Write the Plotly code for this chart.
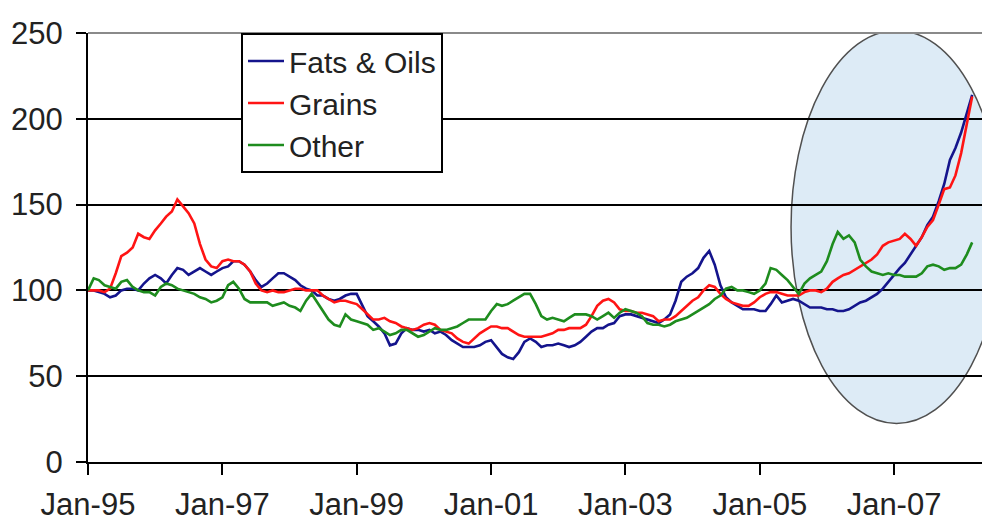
import pandas as pd
import plotly.graph_objects as go

# Monthly index values, Jan-1995 .. Mar-2008 (Jan-1995 = 100)
start_month = "1995-01-01"

fats_oils = [
    100, 100, 99, 98, 96, 97, 100, 101, 101, 100,
    104, 107, 109, 107, 104, 109, 113, 112, 109, 111,
    113, 111, 109, 111, 113, 114, 117, 117, 115, 111,
    106, 102, 104, 107, 110, 110, 108, 106, 103, 101,
    100, 97, 97, 95, 94, 95, 97, 98, 98, 91,
    85, 82, 79, 75, 68, 69, 75, 78, 77, 77,
    76, 77, 75, 76, 74, 71, 69, 67, 67, 67,
    68, 70, 71, 67, 63, 61, 60, 64, 70, 72,
    70, 67, 68, 68, 69, 68, 67, 68, 70, 73,
    76, 78, 78, 80, 81, 85, 86, 86, 85, 84,
    83, 82, 81, 83, 86, 94, 105, 108, 110, 113,
    119, 123, 115, 103, 96, 93, 91, 89, 89, 89,
    88, 88, 92, 97, 93, 94, 95, 94, 92, 90,
    90, 90, 89, 89, 88, 88, 89, 91, 93, 94,
    96, 98, 101, 105, 109, 113, 116, 121, 126, 131,
    138, 143, 152, 162, 176, 183, 192, 204, 214,
]

grains = [
    100, 100, 100, 99, 101, 110, 120, 122, 125, 133,
    131, 130, 135, 139, 143, 146, 153, 149, 145, 139,
    127, 118, 114, 113, 117, 118, 117, 117, 115, 111,
    104, 100, 99, 100, 99, 99, 100, 101, 101, 100,
    100, 100, 97, 95, 93, 94, 94, 93, 92, 89,
    86, 83, 83, 84, 82, 81, 79, 78, 77, 78,
    80, 81, 80, 77, 76, 75, 72, 70, 69, 72,
    75, 77, 79, 79, 78, 78, 76, 74, 73, 73,
    73, 73, 74, 75, 77, 77, 78, 78, 78, 80,
    85, 91, 94, 95, 93, 89, 88, 88, 87, 87,
    86, 85, 82, 83, 83, 85, 88, 91, 94, 96,
    100, 103, 102, 98, 95, 93, 92, 91, 91, 93,
    96, 98, 99, 99, 98, 97, 97, 97, 99, 100,
    100, 99, 101, 105, 107, 109, 110, 112, 114, 116,
    118, 121, 126, 128, 129, 130, 133, 130, 126, 131,
    137, 141, 150, 159, 160, 167, 180, 197, 213,
]

other = [
    100, 107, 106, 103, 102, 101, 105, 106, 102, 100,
    99, 99, 97, 102, 104, 103, 101, 100, 99, 98,
    96, 95, 93, 94, 96, 103, 105, 101, 95, 93,
    93, 93, 93, 91, 92, 93, 91, 90, 88, 94,
    98, 93, 88, 83, 80, 79, 86, 83, 82, 81,
    80, 77, 78, 76, 74, 75, 77, 77, 75, 73,
    74, 76, 78, 77, 77, 78, 79, 81, 83, 83,
    83, 83, 88, 92, 91, 92, 94, 96, 98, 98,
    92, 85, 83, 84, 83, 82, 84, 86, 86, 86,
    85, 83, 85, 87, 84, 87, 89, 88, 87, 85,
    81, 80, 80, 79, 80, 82, 83, 84, 86, 88,
    90, 92, 95, 97, 101, 102, 100, 100, 99, 98,
    100, 104, 113, 112, 109, 106, 102, 98, 104, 107,
    109, 111, 117, 127, 134, 130, 132, 128, 118, 114,
    111, 110, 109, 110, 109, 109, 108, 108, 108, 110,
    114, 115, 114, 112, 113, 113, 115, 121, 128,
]

tick_dates = ["1995-01-01", "1997-01-01", "1999-01-01", "2001-01-01",
              "2003-01-01", "2005-01-01", "2007-01-01"]
tick_labels = ["Jan-95", "Jan-97", "Jan-99", "Jan-01", "Jan-03", "Jan-05", "Jan-07"]
y_ticks = [0, 50, 100, 150, 200, 250]

dates = pd.date_range(start_month, periods=len(fats_oils), freq="MS")

FONT = "Liberation Sans, Arial, sans-serif"

fig = go.Figure()
fig.add_trace(go.Scatter(x=dates, y=fats_oils, mode="lines", name="Fats & Oils",
                         line=dict(color="#14148c", width=2.6)))
fig.add_trace(go.Scatter(x=dates, y=grains, mode="lines", name="Grains",
                         line=dict(color="#ff1414", width=2.6)))
fig.add_trace(go.Scatter(x=dates, y=other, mode="lines", name="Other",
                         line=dict(color="#1e8c1e", width=2.6)))

# highlight ellipse
fig.add_shape(type="circle", xref="x", yref="y",
              x0="2005-06-20", x1="2008-08-10", y0=22.5, y1=251.5,
              fillcolor="#ddebf6", line=dict(color="#505050", width=1.5),
              layer="below")
# grey top / right frame
fig.add_shape(type="line", xref="paper", yref="paper", x0=0, x1=1, y0=1, y1=1,
              line=dict(color="#8a8a8a", width=2), layer="above")
fig.add_shape(type="line", xref="paper", yref="paper", x0=1, x1=1, y0=0, y1=1,
              line=dict(color="#8a8a8a", width=2), layer="above")

fig.update_layout(
    width=990, height=520,
    margin=dict(l=80, r=10, t=25, b=66, autoexpand=False),
    paper_bgcolor="white", plot_bgcolor="white",
    font=dict(family=FONT, size=31, color="#222222"),
    showlegend=True,
    legend=dict(x=0.17, y=1, xanchor="left", yanchor="top",
                bgcolor="white", bordercolor="black", borderwidth=2,
                font=dict(family=FONT, size=30, color="#222222"),
                itemwidth=36, tracegroupgap=0,
                entrywidth=205, entrywidthmode="pixels"),
    xaxis=dict(type="date", range=["1995-01-01", "2008-05-26"],
               tickvals=tick_dates, ticktext=tick_labels,
               showgrid=False, zeroline=False, automargin=False,
               showline=True, linecolor="black", linewidth=2,
               ticks="outside", ticklen=11, tickwidth=2, tickcolor="black",
               ticklabelstandoff=3),
    yaxis=dict(range=[0, 250], tickvals=y_ticks, automargin=False,
               showgrid=True, gridcolor="black", gridwidth=1.6,
               zeroline=False,
               showline=True, linecolor="black", linewidth=2,
               ticks="outside", ticklen=10, tickwidth=2, tickcolor="black",
               ticklabelstandoff=7),
)

fig.write_html("out.html")
